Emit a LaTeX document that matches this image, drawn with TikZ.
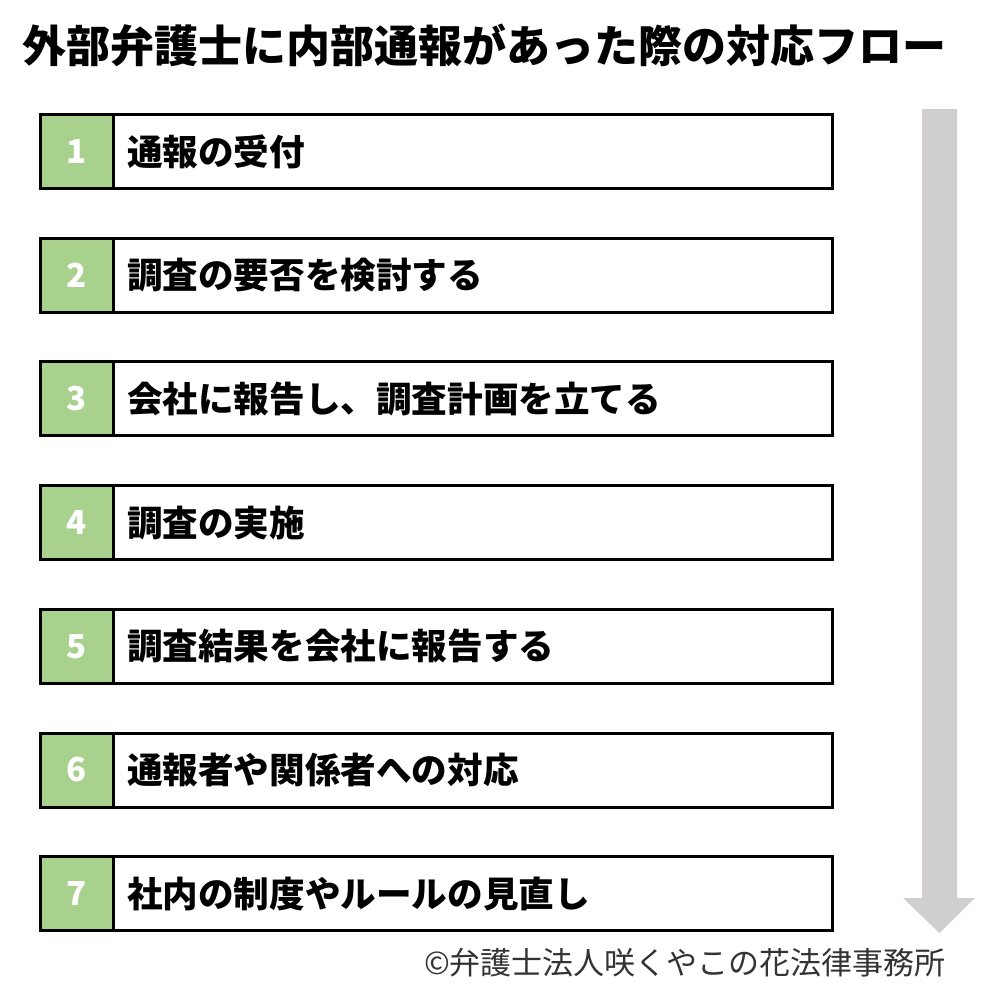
\documentclass[tikz,border=0pt]{standalone}
\usepackage{fontspec}
\setmainfont{Noto Sans CJK JP}
\usetikzlibrary{positioning}
\definecolor{stepgreen}{HTML}{A9D18E}
\definecolor{arrowgray}{HTML}{D0CECE}

\begin{document}
\begin{tikzpicture}[x=1pt,y=-1pt,
    num box/.style={draw=black,line width=3pt,fill=stepgreen,minimum width=73pt,minimum height=74pt,outer sep=0pt,inner sep=0pt,text=white,font=\fontsize{33}{33}\selectfont\bfseries},
    text box/.style={draw=black,line width=3pt,fill=white,minimum height=74pt,text width=692pt,inner xsep=13.5pt,inner ysep=0pt,outer sep=0pt,align=left,font=\fontsize{35.6}{35.6}\selectfont\bfseries}]

    \useasboundingbox (0,0) rectangle (998,998);

    % flow arrow
    \fill[arrowgray] (922,109) -- (957,109) -- (957,898) -- (975,898) -- (939.5,933) -- (903,898) -- (922,898) -- cycle;

    \node[anchor=west,inner sep=0pt,font=\fontsize{44}{44}\selectfont\bfseries](title) at (22,45){外部弁護士に内部通報があった際の対応フロー};

    \node[num box](1) at (77,151.5){1};
    \node[num box](2)[below = 49.7pt of 1]{2};
    \node[num box](3)[below = 49.7pt of 2]{3};
    \node[num box](4)[below = 49.7pt of 3]{4};
    \node[num box](5)[below = 49.7pt of 4]{5};
    \node[num box](6)[below = 49.7pt of 5]{6};
    \node[num box](7)[below = 49.7pt of 6]{7};

    \node[text box](t1)[right = 0pt of 1]{通報の受付};
    \node[text box](t2)[right = 0pt of 2]{調査の要否を検討する};
    \node[text box](t3)[right = 0pt of 3]{会社に報告し、調査計画を立てる};
    \node[text box](t4)[right = 0pt of 4]{調査の実施};
    \node[text box](t5)[right = 0pt of 5]{調査結果を会社に報告する};
    \node[text box](t6)[right = 0pt of 6]{通報者や関係者への対応};
    \node[text box](t7)[right = 0pt of 7]{社内の制度やルールの見直し};

    \node[anchor=east,inner sep=0pt,text=black!80,font=\fontsize{31}{31}\selectfont](copy) at (946,963){©弁護士法人咲くやこの花法律事務所};

\end{tikzpicture}
\end{document}
